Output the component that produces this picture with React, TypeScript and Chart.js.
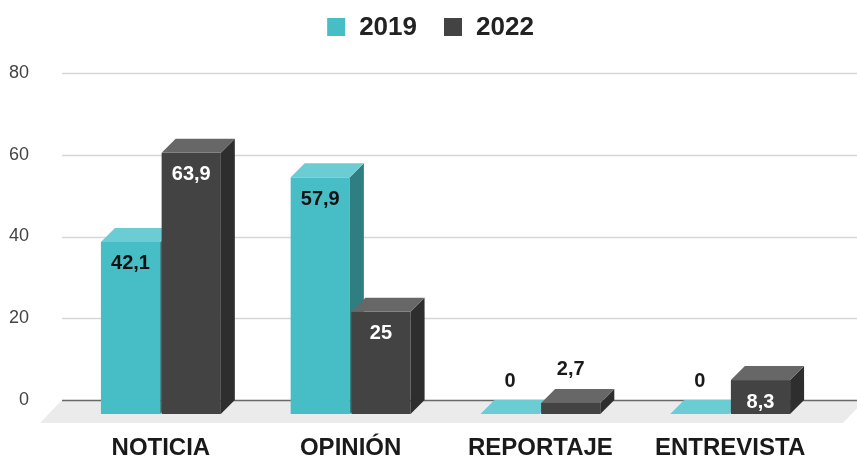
import { useEffect, useRef } from 'react';
import { Chart, registerables } from 'chart.js';

Chart.register(...registerables);

const categories = ['NOTICIA', 'OPINIÓN', 'REPORTAJE', 'ENTREVISTA'];
const seriesLabels = ['2019', '2022'];
const values2019 = [42.1, 57.9, 0, 0];
const values2022 = [63.9, 25, 2.7, 8.3];
const yTicks = [0, 20, 40, 60, 80];

const faces = [
  { front: '#47BEC6', top: '#6CCCD3', side: '#2F7E82', label: '#111111' },
  { front: '#434343', top: '#676767', side: '#2E2E2E', label: '#FFFFFF' },
];
const DEPTH = 14;
const FONT = "'Liberation Sans', Arial, sans-serif";

const fmt = (v: number) => String(v).replace('.', ',');

const plugin3d = {
  id: 'bars3d',
  beforeDatasetsDraw(chart: any) {
    const { ctx, chartArea: ca, scales } = chart;
    const ys = scales.y;
    const ext = 18;
    ctx.save();
    ys.ticks.forEach((t: any) => {
      if (t.value === 0) return;
      const py = Math.round(ys.getPixelForValue(t.value)) + 0.5;
      ctx.strokeStyle = '#d6d6d6';
      ctx.lineWidth = 1.5;
      ctx.beginPath();
      ctx.moveTo(ca.left - ext, py);
      ctx.lineTo(ca.right + ext, py);
      ctx.stroke();
    });
    const y0 = ys.getPixelForValue(0);
    const fd = 23;
    ctx.fillStyle = '#ebebeb';
    ctx.beginPath();
    ctx.moveTo(ca.left - ext, y0);
    ctx.lineTo(ca.right + 26, y0);
    ctx.lineTo(ca.right + 26 - 22, y0 + fd);
    ctx.lineTo(ca.left - ext - 22, y0 + fd);
    ctx.closePath();
    ctx.fill();
    ctx.strokeStyle = '#6a6a6a';
    ctx.lineWidth = 1.5;
    ctx.beginPath();
    ctx.moveTo(ca.left - ext, Math.round(y0) + 0.5);
    ctx.lineTo(ca.right + ext, Math.round(y0) + 0.5);
    ctx.stroke();

    const labels: any[] = [];
    const D = DEPTH;
    chart.data.datasets.forEach((ds: any, di: number) => {
      const meta = chart.getDatasetMeta(di);
      const f = faces[di];
      meta.data.forEach((el: any, i: number) => {
        const p = el.getProps(['x', 'y', 'base', 'width'], true);
        const fl = p.x - p.width / 2 - D;
        const fr = p.x + p.width / 2 - D;
        const ft = p.y + D;
        const fb = p.base + D;
        if (fb - ft > 0.5) {
          ctx.fillStyle = f.front;
          ctx.fillRect(fl, ft, fr - fl, fb - ft);
          ctx.fillStyle = f.side;
          ctx.beginPath();
          ctx.moveTo(fr, ft);
          ctx.lineTo(fr + D, ft - D);
          ctx.lineTo(fr + D, fb - D);
          ctx.lineTo(fr, fb);
          ctx.closePath();
          ctx.fill();
        }
        ctx.fillStyle = f.top;
        ctx.beginPath();
        ctx.moveTo(fl, ft);
        ctx.lineTo(fl + D, ft - D);
        ctx.lineTo(fr + D, ft - D);
        ctx.lineTo(fr, ft);
        ctx.closePath();
        ctx.fill();
        const h = fb - ft;
        const v = ds.data[i];
        if (h > 30) {
          labels.push({ x: (fl + fr) / 2, y: ft + 22, text: fmt(v), color: f.label });
        } else {
          labels.push({ x: (fl + fr) / 2, y: p.y - 19, text: fmt(v), color: '#1a1a1a' });
        }
      });
    });
    ctx.font = `bold 20px ${FONT}`;
    ctx.textAlign = 'center';
    ctx.textBaseline = 'middle';
    labels.forEach((l) => {
      ctx.fillStyle = l.color;
      ctx.fillText(l.text, l.x, l.y);
    });

    ctx.font = `bold 26px ${FONT}`;
    ctx.textAlign = 'left';
    const box = 18;
    const gap = 14;
    const itemGap = 27;
    const items = chart.data.datasets.map((ds: any, di: number) => ({
      text: ds.label,
      color: faces[di].front,
      w: ctx.measureText(ds.label).width,
    }));
    const total = items.reduce((s: number, it: any) => s + box + gap + it.w, 0) + itemGap * (items.length - 1);
    let x = chart.width / 2 - total / 2 + 2;
    const cy = 27;
    items.forEach((it: any) => {
      ctx.fillStyle = it.color;
      ctx.fillRect(x, cy - box / 2, box, box);
      x += box + gap;
      ctx.fillStyle = '#222222';
      ctx.fillText(it.text, x, cy + 1);
      x += it.w + itemGap;
    });
    ctx.restore();
    return false;
  },
};

export default function App() {
  const ref = useRef<HTMLCanvasElement | null>(null);
  useEffect(() => {
    if (!ref.current) return;
    const chart = new Chart(ref.current, {
      type: 'bar',
      data: {
        labels: categories,
        datasets: [
          {
            label: seriesLabels[0],
            data: values2019,
            backgroundColor: faces[0].front,
            categoryPercentage: 0.64,
            barPercentage: 0.975,
          },
          {
            label: seriesLabels[1],
            data: values2022,
            backgroundColor: faces[1].front,
            categoryPercentage: 0.64,
            barPercentage: 0.975,
          },
        ],
      },
      options: {
        responsive: true,
        maintainAspectRatio: false,
        animation: false,
        layout: { padding: { top: 73, right: 18, left: 0, bottom: 0 } },
        plugins: { legend: { display: false }, tooltip: { enabled: false } },
        scales: {
          x: {
            grid: { display: false, drawTicks: false },
            border: { display: false },
            ticks: {
              padding: 34,
              labelOffset: -DEPTH,
              maxRotation: 0,
              autoSkip: false,
              color: '#1a1a1a',
              font: { family: FONT, size: 24, weight: 'bold' },
            },
            afterFit: (s: any) => {
              s.height = 59;
            },
          },
          y: {
            min: 0,
            max: 80,
            grid: { display: false, drawTicks: false },
            border: { display: false },
            ticks: {
              stepSize: 20,
              padding: 51,
              color: '#444444',
              font: { family: FONT, size: 18 },
            },
            afterBuildTicks: (s: any) => {
              s.ticks = yTicks.map((v) => ({ value: v }));
            },
            afterFit: (s: any) => {
              s.width = 80;
              s.paddingTop = 0;
              s.paddingBottom = 0;
            },
          },
        },
      } as any,
      plugins: [plugin3d as any],
    });
    return () => chart.destroy();
  }, []);
  return (
    <div style={{ position: 'fixed', left: 0, top: 0, width: 857, height: 459, background: '#fff' }}>
      <canvas ref={ref} />
    </div>
  );
}
